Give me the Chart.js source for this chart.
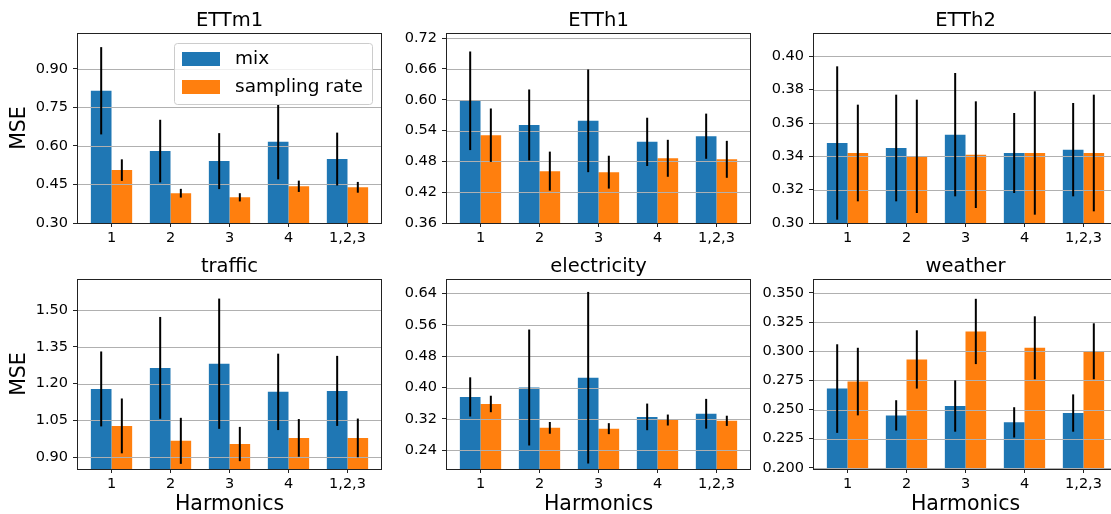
<!DOCTYPE html>
<html>
<head>
<meta charset="utf-8">
<script src="https://cdn.jsdelivr.net/npm/chart.js@4.4.1/dist/chart.umd.min.js"></script>
<style>
    html, body { margin: 0; padding: 0; background: #fff; width: 1111px; height: 514px; overflow: hidden; position: relative; }
    canvas { position: absolute; }
</style>
</head>
<body>
<script>
const harmonics = ["1", "2", "3", "4", "1,2,3"];

const ettm1Mix = [0.815, 0.580, 0.541, 0.616, 0.549];
const ettm1MixErr = [0.170, 0.122, 0.109, 0.146, 0.103];
const ettm1Rate = [0.506, 0.416, 0.400, 0.443, 0.439];
const ettm1RateErr = [0.042, 0.017, 0.016, 0.022, 0.021];

const etth1Mix = [0.598, 0.551, 0.559, 0.518, 0.529];
const etth1MixErr = [0.096, 0.069, 0.100, 0.047, 0.044];
const etth1Rate = [0.531, 0.461, 0.459, 0.486, 0.484];
const etth1RateErr = [0.052, 0.038, 0.032, 0.036, 0.036];

const etth2Mix = [0.348, 0.345, 0.353, 0.342, 0.344];
const etth2MixErr = [0.046, 0.032, 0.037, 0.024, 0.028];
const etth2Rate = [0.342, 0.340, 0.341, 0.342, 0.342];
const etth2RateErr = [0.029, 0.034, 0.032, 0.037, 0.035];

const trafficMix = [1.178, 1.264, 1.281, 1.166, 1.170];
const trafficMixErr = [0.153, 0.208, 0.266, 0.156, 0.143];
const trafficRate = [1.027, 0.966, 0.953, 0.978, 0.978];
const trafficRateErr = [0.112, 0.094, 0.070, 0.077, 0.079];

const elecMix = [0.376, 0.400, 0.425, 0.325, 0.333];
const elecMixErr = [0.050, 0.148, 0.219, 0.034, 0.038];
const elecRate = [0.358, 0.297, 0.295, 0.317, 0.315];
const elecRateErr = [0.021, 0.015, 0.014, 0.014, 0.013];

const weatherMix = [0.268, 0.245, 0.253, 0.239, 0.247];
const weatherMixErr = [0.038, 0.013, 0.022, 0.013, 0.016];
const weatherRate = [0.274, 0.293, 0.317, 0.303, 0.300];
const weatherRateErr = [0.029, 0.025, 0.028, 0.027, 0.024];

const ettm1Ticks = [0.30, 0.45, 0.60, 0.75, 0.90];
const etth1Ticks = [0.36, 0.42, 0.48, 0.54, 0.60, 0.66, 0.72];
const etth2Ticks = [0.30, 0.32, 0.34, 0.36, 0.38, 0.40];
const trafficTicks = [0.90, 1.05, 1.20, 1.35, 1.50];
const elecTicks = [0.24, 0.32, 0.40, 0.48, 0.56, 0.64];
const weatherTicks = [0.200, 0.225, 0.250, 0.275, 0.300, 0.325, 0.350];

const panels = [
    { title: "ETTm1", mix: ettm1Mix, mixErr: ettm1MixErr, rate: ettm1Rate, rateErr: ettm1RateErr, ticks: ettm1Ticks, min: 0.30, max: 1.04, dec: 2, legend: true },
    { title: "ETTh1", mix: etth1Mix, mixErr: etth1MixErr, rate: etth1Rate, rateErr: etth1RateErr, ticks: etth1Ticks, min: 0.36, max: 0.73, dec: 2 },
    { title: "ETTh2", mix: etth2Mix, mixErr: etth2MixErr, rate: etth2Rate, rateErr: etth2RateErr, ticks: etth2Ticks, min: 0.30, max: 0.414, dec: 2 },
    { title: "traffic", mix: trafficMix, mixErr: trafficMixErr, rate: trafficRate, rateErr: trafficRateErr, ticks: trafficTicks, min: 0.851, max: 1.627, dec: 2 },
    { title: "electricity", mix: elecMix, mixErr: elecMixErr, rate: elecRate, rateErr: elecRateErr, ticks: elecTicks, min: 0.192, max: 0.677, dec: 2 },
    { title: "weather", mix: weatherMix, mixErr: weatherMixErr, rate: weatherRate, rateErr: weatherRateErr, ticks: weatherTicks, min: 0.199, max: 0.362, dec: 3 }
];

const FONT = "'DejaVu Sans', sans-serif";
Chart.defaults.font.family = FONT;
Chart.defaults.color = "#000";

const plotLefts = [77, 446, 813];
const rowTops = [0, 246];
const axisW = 77;
const plotW = 305;
const rightPad = 5;
const xAxisH = [30, 48];
const titleH = 33;
const plotH = 190;

// grid lines over the bars, error bars, frame and (first panel) legend
const overlayPlugin = {
    id: "overlay",
    afterDatasetsDraw(chart, args, opts) {
        const ctx = chart.ctx;
        const area = chart.chartArea;
        const ys = chart.scales.y;

        ctx.save();
        ctx.strokeStyle = "#b0b0b0";
        ctx.lineWidth = 1;
        ys.ticks.forEach(function (t) {
            const py = Math.round(ys.getPixelForValue(t.value)) + 0.5;
            ctx.beginPath();
            ctx.moveTo(area.left, py);
            ctx.lineTo(area.right, py);
            ctx.stroke();
        });

        ctx.beginPath();
        ctx.rect(area.left, area.top, area.right - area.left, area.bottom - area.top);
        ctx.clip();
        ctx.strokeStyle = "#000";
        ctx.lineWidth = 2;
        chart.data.datasets.forEach(function (ds, d) {
            const meta = chart.getDatasetMeta(d);
            meta.data.forEach(function (bar, i) {
                const v = ds.data[i].y;
                const e = ds.errors[i];
                ctx.beginPath();
                ctx.moveTo(bar.x, ys.getPixelForValue(v + e));
                ctx.lineTo(bar.x, ys.getPixelForValue(v - e));
                ctx.stroke();
            });
        });
        ctx.restore();

        ctx.save();
        ctx.strokeStyle = "#222";
        ctx.lineWidth = 1;
        ctx.strokeRect(area.left + 0.5, area.top + 0.5, area.right - area.left - 1, area.bottom - area.top);
        ctx.restore();

        if (opts.legend) {
            const lx = area.left + 97, ly = area.top + 10, lw = 198, lh = 61;
            ctx.save();
            ctx.fillStyle = "rgba(255,255,255,0.8)";
            ctx.strokeStyle = "#cccccc";
            ctx.lineWidth = 1;
            ctx.beginPath();
            ctx.roundRect(lx + 0.5, ly + 0.5, lw, lh, 3);
            ctx.fill();
            ctx.stroke();
            ctx.font = "18.5px " + FONT;
            ctx.textBaseline = "middle";
            chart.data.datasets.forEach(function (ds, d) {
                const rowY = ly + 9 + d * 28;
                ctx.fillStyle = ds.backgroundColor;
                ctx.fillRect(lx + 8, rowY, 38, 14);
                ctx.fillStyle = "#000";
                ctx.fillText(ds.label, lx + 61, rowY + 7);
            });
            ctx.restore();
        }
    }
};

panels.forEach(function (p, k) {
    const col = k % 3;
    const row = Math.floor(k / 3);
    const canvas = document.createElement("canvas");
    const w = axisW + plotW + rightPad;
    const h = titleH + plotH + xAxisH[row];
    canvas.width = w;
    canvas.height = h;
    canvas.style.left = (plotLefts[col] - axisW) + "px";
    canvas.style.top = rowTops[row] + "px";
    document.body.appendChild(canvas);

    new Chart(canvas, {
        type: "bar",
        data: {
            datasets: [
                {
                    label: "mix",
                    data: p.mix.map(function (v, i) { return { x: i, y: v }; }),
                    errors: p.mixErr,
                    backgroundColor: "#1f77b4",
                    borderWidth: 0,
                    categoryPercentage: 0.7,
                    barPercentage: 1.0
                },
                {
                    label: "sampling rate",
                    data: p.rate.map(function (v, i) { return { x: i, y: v }; }),
                    errors: p.rateErr,
                    backgroundColor: "#ff7f0e",
                    borderWidth: 0,
                    categoryPercentage: 0.7,
                    barPercentage: 1.0
                }
            ]
        },
        plugins: [overlayPlugin],
        options: {
            responsive: false,
            animation: false,
            devicePixelRatio: 1,
            events: [],
            layout: { padding: { left: 0, right: rightPad, top: 0, bottom: 0 } },
            plugins: {
                legend: { display: false },
                tooltip: { enabled: false },
                title: {
                    display: true,
                    text: p.title,
                    fullSize: false,
                    font: { size: 19.5, weight: "normal" },
                    padding: { top: 9.6, bottom: 0 }
                },
                overlay: { legend: !!p.legend }
            },
            scales: {
                x: {
                    type: "linear",
                    min: -0.585,
                    max: 4.585,
                    offset: false,
                    afterBuildTicks: function (axis) {
                        axis.ticks = harmonics.map(function (h, i) { return { value: i }; });
                    },
                    afterFit: function (axis) { axis.height = xAxisH[row]; },
                    grid: { offset: false, drawOnChartArea: false, drawTicks: true, tickLength: 4, color: "#222" },
                    border: { display: false },
                    ticks: {
                        font: { size: 14.5 },
                        padding: 3,
                        maxRotation: 0,
                        autoSkip: false,
                        callback: function (v) { return harmonics[v]; }
                    },
                    title: {
                        display: row === 1,
                        text: "Harmonics",
                        font: { size: 20.5 },
                        padding: { top: 0, bottom: 0 }
                    }
                },
                y: {
                    min: p.min,
                    max: p.max,
                    afterBuildTicks: function (axis) {
                        axis.ticks = p.ticks.map(function (v) { return { value: v }; });
                    },
                    afterFit: function (axis) { axis.width = axisW; },
                    grid: { drawOnChartArea: false, drawTicks: true, tickLength: 4, color: "#222" },
                    border: { display: false },
                    ticks: {
                        font: { size: 14.5 },
                        padding: 5,
                        autoSkip: false,
                        callback: function (v) { return v.toFixed(p.dec); }
                    },
                    title: {
                        display: col === 0,
                        text: "MSE",
                        font: { size: 20.5 },
                        padding: { top: 7.2, bottom: 0 }
                    }
                }
            }
        }
    });
});
</script>
</body>
</html>
